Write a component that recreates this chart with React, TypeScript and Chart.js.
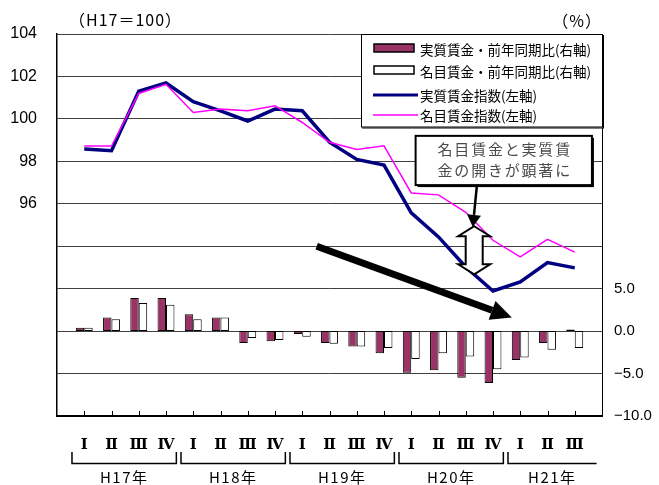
import React, { useEffect, useRef } from 'react';
import { Chart, registerables } from 'chart.js';

Chart.register(...registerables);

// ---- data ----
const quarterLabels = ['', 'Ⅰ', 'Ⅱ', 'Ⅲ', 'Ⅳ', 'Ⅰ', 'Ⅱ', 'Ⅲ', 'Ⅳ', 'Ⅰ', 'Ⅱ', 'Ⅲ', 'Ⅳ', 'Ⅰ', 'Ⅱ', 'Ⅲ', 'Ⅳ', 'Ⅰ', 'Ⅱ', 'Ⅲ', ''];
const yearLabels = ['H17年', 'H18年', 'H19年', 'H20年', 'H21年'];
const quartersPerYear = [4, 4, 4, 4, 3];

const realYoY = [0.4, 1.6, 3.9, 3.9, 2.0, 1.6, -1.4, -1.2, -0.35, -1.4, -1.8, -2.6, -4.9, -4.6, -5.5, -6.1, -3.4, -1.4, 0.2];
const nominalYoY = [0.4, 1.4, 3.3, 3.1, 1.4, 1.6, -0.8, -1.05, -0.65, -1.5, -1.8, -2.0, -3.3, -2.6, -3.0, -4.5, -3.1, -2.2, -2.0];
const realIndex = [98.58, 98.5, 101.3, 101.69, 100.81, 100.38, 99.9, 100.46, 100.38, 98.9, 98.09, 97.82, 95.57, 94.44, 93.02, 91.89, 92.32, 93.23, 92.98];
const nominalIndex = [98.72, 98.72, 101.2, 101.63, 100.3, 100.46, 100.38, 100.62, 99.83, 98.9, 98.56, 98.73, 96.51, 96.42, 95.6, 94.28, 93.5, 94.32, 93.72];

const seriesNames = ['実質賃金・前年同期比(右軸)', '名目賃金・前年同期比(右軸)', '実質賃金指数(左軸)', '名目賃金指数(左軸)'];
const leftLabelled = [96, 98, 100, 102, 104];
const rightLabelled = [-10, -5, 0, 5];
const leftUnit = '（H17＝100）';
const rightUnit = '（%）';
const noteLines = ['名目賃金と実質賃', '金の開きが顕著に'];

const pad = (a: number[]) => [null, ...a, null];

const JP = '"Noto Sans CJK JP", sans-serif';

const decoPlugin = {
  id: 'deco',
  afterDraw(chart: any) {
    const ctx = chart.ctx as CanvasRenderingContext2D;
    const xs = chart.scales.x;
    const ys = chart.scales.y;
    const area = chart.chartArea;
    const X = (i: number) => xs.getPixelForValue(i);
    const Y = (v: number) => ys.getPixelForValue(v);
    const step = X(1) - X(0);
    ctx.save();

    // inner x tick marks
    ctx.strokeStyle = '#000';
    ctx.lineWidth = 1;
    for (let i = 1; i < quarterLabels.length - 1; i++) {
      const x = Math.round(X(i)) + 0.5;
      ctx.beginPath();
      ctx.moveTo(x, area.bottom);
      ctx.lineTo(x, area.bottom - 5);
      ctx.stroke();
    }

    // year brackets
    let idx = 1;
    const yLine = area.bottom + 47.5;
    const yTop = area.bottom + 36;
    ctx.fillStyle = '#000';
    ctx.font = '15px ' + JP;
    ctx.textAlign = 'center';
    ctx.textBaseline = 'middle';
    (ctx as any).letterSpacing = '1.5px';
    quartersPerYear.forEach((n, j) => {
      const first = idx;
      const last = idx + n - 1;
      const full = n === 4;
      const x0 = X(first) - 0.45 * step;
      const x1 = full ? X(last) + 0.38 * step : X(first + 3) - 0.2 * step;
      ctx.lineWidth = 1.5;
      ctx.beginPath();
      ctx.moveTo(x0, yTop);
      ctx.lineTo(x0, yLine);
      ctx.lineTo(x1, yLine);
      if (full) ctx.lineTo(x1, yTop);
      ctx.stroke();
      ctx.fillText(yearLabels[j], (x0 + x1) / 2, area.bottom + 61);
      idx += n;
    });
    (ctx as any).letterSpacing = '0px';

    // unit texts
    ctx.font = '16px ' + JP;
    (ctx as any).letterSpacing = '1px';
    ctx.textAlign = 'left';
    ctx.fillText(leftUnit, area.left + 12, area.top - 14);
    ctx.textAlign = 'right';
    ctx.fillText(rightUnit, area.right, area.top - 13);
    (ctx as any).letterSpacing = '0px';

    // big trend arrow
    const drawArrow = (sx: number, sy: number, tx: number, ty: number, lw: number, hl: number, hw: number) => {
      const ang = Math.atan2(ty - sy, tx - sx);
      const bx = tx - hl * Math.cos(ang);
      const by = ty - hl * Math.sin(ang);
      ctx.strokeStyle = '#000';
      ctx.lineWidth = lw;
      ctx.lineCap = 'butt';
      ctx.beginPath();
      ctx.moveTo(sx, sy);
      ctx.lineTo(bx, by);
      ctx.stroke();
      ctx.fillStyle = '#000';
      ctx.beginPath();
      ctx.moveTo(tx, ty);
      ctx.lineTo(bx + hw * Math.sin(ang), by - hw * Math.cos(ang));
      ctx.lineTo(bx - hw * Math.sin(ang), by + hw * Math.cos(ang));
      ctx.closePath();
      ctx.fill();
    };
    drawArrow(X(9.53), Y(94.0), X(16.69), Y(90.64), 7, 21, 10);

    // double hollow arrow
    const cx = X(15.31);
    const yt = Y(94.94);
    const yb = Y(92.68);
    const hw = 16, sw = 8.5, hl = 10;
    ctx.beginPath();
    ctx.moveTo(cx, yt);
    ctx.lineTo(cx + hw, yt + hl);
    ctx.lineTo(cx + sw, yt + hl);
    ctx.lineTo(cx + sw, yb - hl);
    ctx.lineTo(cx + hw, yb - hl);
    ctx.lineTo(cx, yb);
    ctx.lineTo(cx - hw, yb - hl);
    ctx.lineTo(cx - sw, yb - hl);
    ctx.lineTo(cx - sw, yt + hl);
    ctx.lineTo(cx - hw, yt + hl);
    ctx.closePath();
    ctx.fillStyle = '#fff';
    ctx.fill();
    ctx.lineWidth = 2;
    ctx.lineJoin = 'miter';
    ctx.strokeStyle = '#000';
    ctx.stroke();

    // note box
    const bx0 = X(13.16), bx1 = X(19.63), by0 = Y(99.2), by1 = Y(96.88);
    drawArrow(X(15.41), by1, X(15.26), Y(94.91), 2.5, 12, 7);
    ctx.fillStyle = '#000';
    ctx.fillRect(bx0 + 2, by0 + 2, bx1 - bx0, by1 - by0);
    ctx.fillStyle = '#fff';
    ctx.fillRect(bx0, by0, bx1 - bx0, by1 - by0);
    ctx.strokeStyle = '#000';
    ctx.lineWidth = 2;
    ctx.strokeRect(bx0, by0, bx1 - bx0, by1 - by0);
    ctx.fillStyle = '#4a4a4a';
    ctx.font = '15px ' + JP;
    ctx.textAlign = 'center';
    ctx.textBaseline = 'middle';
    (ctx as any).letterSpacing = '1.8px';
    ctx.fillText(noteLines[0], (bx0 + bx1) / 2 + 1, by0 + 13);
    ctx.fillText(noteLines[1], (bx0 + bx1) / 2 + 1, by0 + 34);
    (ctx as any).letterSpacing = '0px';

    // legend
    const lx0 = area.right - 241;
    const lx1 = area.right + 1;
    const ly0 = area.top;
    const ly1 = area.top + 93.5;
    ctx.fillStyle = '#000';
    ctx.fillRect(lx0 + 1, ly0 + 1, lx1 - lx0, ly1 - ly0);
    ctx.fillStyle = '#fff';
    ctx.fillRect(lx0, ly0, lx1 - lx0, ly1 - ly0);
    ctx.strokeStyle = '#000';
    ctx.lineWidth = 1;
    ctx.strokeRect(lx0 + 0.5, ly0 + 0.5, lx1 - lx0 - 1, ly1 - ly0 - 1);
    const rows = [15, 37, 61, 81];
    const ds = chart.data.datasets;
    ctx.font = '13.5px ' + JP;
    ctx.textAlign = 'left';
    ctx.textBaseline = 'middle';
    ds.forEach((d: any, i: number) => {
      const cy = ly0 + rows[i];
      if (d.type === 'line') {
        ctx.strokeStyle = d.borderColor;
        ctx.lineWidth = i === 2 ? 3 : 1.5;
        ctx.beginPath();
        ctx.moveTo(lx0 + 12, cy);
        ctx.lineTo(lx0 + 57, cy);
        ctx.stroke();
      } else {
        ctx.fillStyle = d.backgroundColor;
        ctx.fillRect(lx0 + 13, cy - 5, 40, 8);
        ctx.strokeStyle = '#000';
        ctx.lineWidth = 1.5;
        ctx.strokeRect(lx0 + 13, cy - 5, 40, 8);
      }
      ctx.fillStyle = '#000';
      ctx.fillText(d.label, lx0 + 59, cy + 1);
    });

    ctx.restore();
  },
};

export default function App() {
  const ref = useRef<HTMLCanvasElement | null>(null);
  useEffect(() => {
    if (!ref.current) return;
    Chart.defaults.font.family = '"Liberation Sans", Arial, sans-serif';
    const chart = new Chart(ref.current, {
      type: 'bar',
      data: {
        labels: quarterLabels,
        datasets: [
          {
            type: 'bar',
            label: seriesNames[0],
            data: pad(realYoY),
            yAxisID: 'y1',
            backgroundColor: '#993366',
            borderColor: '#000',
            borderWidth: 1,
            borderSkipped: false,
            barPercentage: 1,
            categoryPercentage: 0.62,
            order: 2,
          },
          {
            type: 'bar',
            label: seriesNames[1],
            data: pad(nominalYoY),
            yAxisID: 'y1',
            backgroundColor: '#ffffff',
            borderColor: '#000',
            borderWidth: 1,
            borderSkipped: false,
            barPercentage: 1,
            categoryPercentage: 0.62,
            order: 3,
          },
          {
            type: 'line',
            label: seriesNames[2],
            data: pad(realIndex),
            yAxisID: 'y',
            borderColor: '#000080',
            backgroundColor: '#000080',
            borderWidth: 3.5,
            pointRadius: 0,
            tension: 0,
            order: 1,
          },
          {
            type: 'line',
            label: seriesNames[3],
            data: pad(nominalIndex),
            yAxisID: 'y',
            borderColor: '#ff00ff',
            backgroundColor: '#ff00ff',
            borderWidth: 1.5,
            pointRadius: 0,
            tension: 0,
            order: 0,
          },
        ] as any,
      },
      options: {
        responsive: false,
        animation: false,
        devicePixelRatio: 1,
        layout: { padding: { top: 34, left: 0, right: 0, bottom: 0 } },
        plugins: { legend: { display: false }, tooltip: { enabled: false } },
        scales: {
          x: {
            type: 'category',
            offset: false,
            grid: { display: false, drawTicks: false },
            border: { display: true, color: '#000', width: 2 },
            ticks: {
              autoSkip: false,
              maxRotation: 0,
              padding: 20,
              color: '#000',
              font: { family: '"DejaVu Serif", "Liberation Serif", serif', size: 15, weight: 'bold' },
            },
            afterFit: (s: any) => { s.height = 69; },
          },
          y: {
            position: 'left',
            min: 86,
            max: 104,
            grid: { color: '#404040', lineWidth: 1, drawTicks: false },
            border: { display: true, color: '#000', width: 1.5 },
            ticks: {
              stepSize: 2,
              padding: 20,
              color: '#000',
              font: { size: 16 },
              callback: (v: any) => (leftLabelled.includes(v) ? String(v) : ''),
            },
            afterFit: (s: any) => { s.width = 57; },
          },
          y1: {
            position: 'right',
            min: -10,
            max: 35,
            grid: { display: false, drawTicks: false },
            border: { display: true, color: '#000', width: 1 },
            ticks: {
              stepSize: 5,
              padding: 12,
              color: '#000',
              font: { size: 15 },
              callback: (v: any) => (rightLabelled.includes(v) ? Number(v).toFixed(1).replace('-', '−') : ''),
            },
            afterFit: (s: any) => { s.width = 57; },
          },
        },
      } as any,
      plugins: [decoPlugin],
    });
    return () => chart.destroy();
  }, []);
  return (
    <div style={{ position: 'absolute', left: 0, top: 0, width: 659, height: 485 }}>
      <canvas ref={ref} width={659} height={485} style={{ display: 'block', width: 659, height: 485 }} />
    </div>
  );
}
